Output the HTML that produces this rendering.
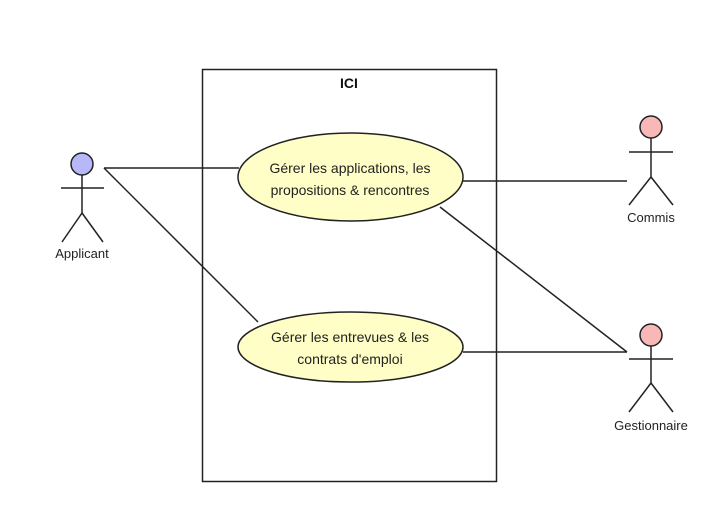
<!DOCTYPE html>
<html><head><meta charset="utf-8"><style>html,body{margin:0;padding:0;background:#fff}</style></head>
<body>
<svg width="725" height="525" xmlns="http://www.w3.org/2000/svg" font-family="Liberation Sans, sans-serif">
<rect x="0" y="0" width="725" height="525" fill="#fff"/>
<rect x="202.5" y="69.5" width="294" height="412" fill="none" stroke="#222" stroke-width="1.5"/>
<text x="349" y="88" font-size="14" font-weight="bold" text-anchor="middle" fill="#111">ICI</text>
<g stroke="#222" stroke-width="1.5" fill="none">
<line x1="104" y1="168" x2="239" y2="168"/>
<line x1="104" y1="168" x2="258" y2="322"/>
<line x1="463" y1="181" x2="627" y2="181"/>
<line x1="440" y1="207" x2="627" y2="352"/>
<line x1="463" y1="352" x2="627" y2="352"/>
</g>
<ellipse cx="350.5" cy="177" rx="112.5" ry="44" fill="#fefec6" stroke="#222" stroke-width="1.5"/>
<ellipse cx="350.5" cy="347" rx="112.5" ry="35" fill="#fefec6" stroke="#222" stroke-width="1.5"/>
<g font-size="14" fill="#222" text-anchor="middle">
<text x="350" y="173">Gérer les applications, les</text>
<text x="350" y="195">propositions &amp; rencontres</text>
<text x="350" y="342">Gérer les entrevues &amp; les</text>
<text x="350" y="364">contrats d'emploi</text>
</g>
<g stroke="#222" stroke-width="1.5" fill="none">
<line x1="82" y1="175" x2="82" y2="213"/><line x1="61" y1="188" x2="104" y2="188"/>
<line x1="82" y1="213" x2="62" y2="242"/><line x1="82" y1="213" x2="103" y2="242"/>
<line x1="651" y1="138" x2="651" y2="177"/><line x1="629" y1="152" x2="673" y2="152"/>
<line x1="651" y1="177" x2="629" y2="205"/><line x1="651" y1="177" x2="673" y2="205"/>
<line x1="651" y1="346" x2="651" y2="383"/><line x1="629" y1="359" x2="673" y2="359"/>
<line x1="651" y1="383" x2="629" y2="412"/><line x1="651" y1="383" x2="673" y2="412"/>
</g>
<circle cx="82" cy="164" r="11" fill="#b8b8f8" stroke="#222" stroke-width="1.5"/>
<circle cx="651" cy="127" r="11" fill="#f8b8b8" stroke="#222" stroke-width="1.5"/>
<circle cx="651" cy="335" r="11" fill="#f8b8b8" stroke="#222" stroke-width="1.5"/>
<g font-size="13" fill="#222" text-anchor="middle">
<text x="82" y="258">Applicant</text>
<text x="651" y="222">Commis</text>
<text x="651" y="430">Gestionnaire</text>
</g>
</svg>
</body></html>
